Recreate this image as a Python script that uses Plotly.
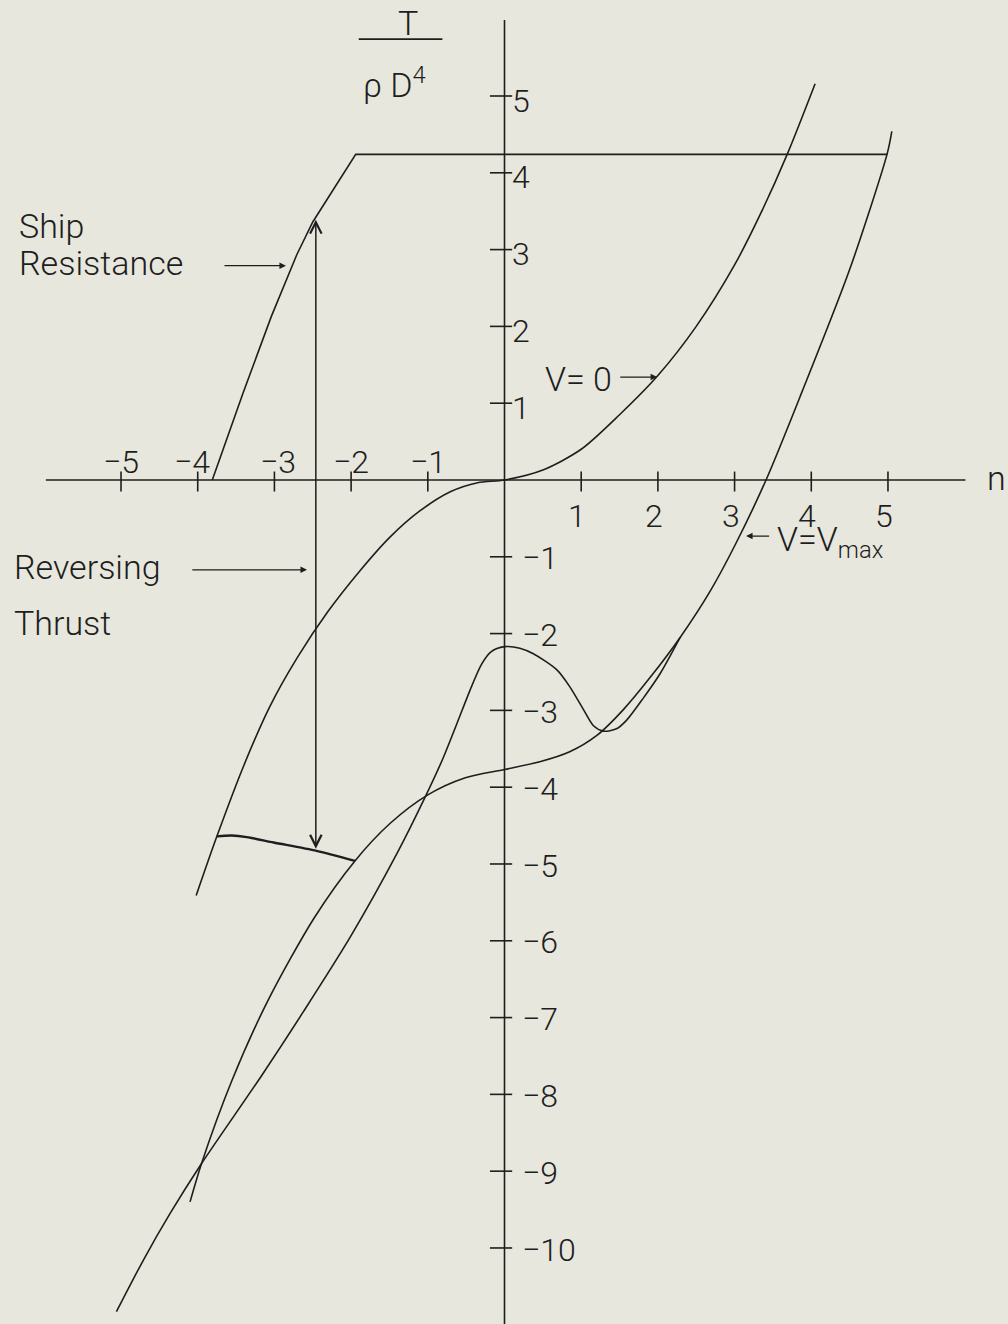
import plotly.graph_objects as go

# ---- curve data: rotational speed n against thrust coefficient T/(rho D^4) ----
# V = 0 (bollard) curve
v0_n = [-4.02, -3.75, -3.40, -3.06, -2.70, -2.30, -1.90, -1.50, -1.10, -0.70, -0.35,
        0.0, 0.50, 1.00, 1.50, 2.00, 2.50, 3.00, 3.35, 3.69, 4.05]
v0_T = [-5.41, -4.64, -3.72, -2.95, -2.31, -1.71, -1.20, -0.75, -0.40, -0.15, -0.035,
        0.0, 0.13, 0.40, 0.85, 1.36, 2.00, 2.80, 3.49, 4.25, 5.16]

# V = Vmax curve
vmax_n = [-4.10, -3.95, -3.55, -3.08, -2.48, -1.95, -1.49, -1.00, -0.52, 0.0,
          0.46, 0.85, 1.20, 1.55, 1.90, 2.29, 2.68, 3.01, 3.41, 3.88, 4.50, 4.99, 5.05]
vmax_T = [-9.40, -8.90, -7.81, -6.77, -5.70, -4.96, -4.47, -4.10, -3.88, -3.77,
          -3.67, -3.54, -3.33, -2.99, -2.57, -2.05, -1.45, -0.84, 0.0, 1.15, 2.74, 4.25, 4.54]

# crash-stop transient curve
hump_n = [-5.06, -4.71, -4.36, -3.95, -3.17, -2.62, -2.01, -1.40, -1.04, -0.80, -0.62,
          -0.43, -0.30, -0.18, 0.0, 0.20, 0.37, 0.68, 0.85, 1.03, 1.16, 1.29, 1.46,
          1.59, 1.81, 2.03, 2.29]
hump_T = [-10.83, -10.16, -9.55, -8.90, -7.76, -6.92, -5.95, -4.86, -4.14, -3.62, -3.17,
          -2.69, -2.40, -2.24, -2.17, -2.19, -2.26, -2.47, -2.69, -2.99, -3.20, -3.27,
          -3.24, -3.13, -2.84, -2.52, -2.05]

# ship resistance line, capped at the torque limit
resist_n = [-3.81, -3.41, -3.04, -2.71, -2.50, -1.94, 4.99]
resist_T = [0.0, 1.13, 2.13, 2.93, 3.36, 4.24, 4.24]

# reversing thrust envelope
reverse_n = [-3.75, -3.56, -3.36, -3.01, -2.45, -1.95]
reverse_T = [-4.64, -4.63, -4.65, -4.72, -4.83, -4.96]

# reversing-thrust dimension line
span_n = -2.46
span_T = [3.39, -4.82]

# axis ticks
n_ticks_neg = [-5, -4, -3, -2, -1]
n_ticks_pos = [1, 2, 3, 4, 5]
t_ticks_pos = [5, 4, 3, 2, 1]
t_ticks_neg = [-1, -2, -3, -4, -5, -6, -7, -8, -9, -10]

INK = "#1e1e1e"
BG = "#e7e7dd"
FAMILY = "Roboto, 'DejaVu Sans', sans-serif"
FONT = dict(family=FAMILY, size=34, color=INK, weight=300)
TICKFONT = dict(family=FAMILY, size=32, color=INK, weight=300)

# small pixel nudges so tick labels clear the curves that cross them
LABEL_NUDGE = {-4: -6, -3: 4}


def label(num):
    return str(num).replace("-", "\u2212")


fig = go.Figure()


def curve(n, T, width=1.6, shape="spline"):
    fig.add_trace(go.Scatter(
        x=n, y=T, mode="lines",
        line=dict(color=INK, width=width, shape=shape, smoothing=0.8),
        hoverinfo="skip", showlegend=False))


curve(v0_n, v0_T)
curve(vmax_n, vmax_T)
curve(hump_n, hump_T)
curve(resist_n, resist_T, shape="linear")
curve(reverse_n, reverse_T, width=2.4)

shapes = []
# axes through the origin
shapes.append(dict(type="line", x0=-5.98, x1=6.01, y0=0, y1=0,
                   line=dict(color=INK, width=1.6)))
shapes.append(dict(type="line", x0=0, x1=0, y0=-11.5, y1=5.99,
                   line=dict(color=INK, width=1.6)))
for v in n_ticks_neg + n_ticks_pos:
    shapes.append(dict(type="line", x0=v, x1=v, y0=-0.15, y1=0.11,
                       line=dict(color=INK, width=1.6)))
for v in t_ticks_pos + t_ticks_neg:
    shapes.append(dict(type="line", x0=-0.19, x1=0.10, y0=v, y1=v,
                       line=dict(color=INK, width=1.6)))
# fraction bar of the y-axis title
shapes.append(dict(type="line", x0=-1.90, x1=-0.81, y0=5.74, y1=5.74,
                   line=dict(color=INK, width=1.6)))

ann = []
for v in n_ticks_neg:
    ann.append(dict(x=v, y=0.24, text=label(v), showarrow=False,
                    xshift=LABEL_NUDGE.get(v, 0),
                    xanchor="center", yanchor="middle", font=TICKFONT))
for v in n_ticks_pos:
    ann.append(dict(x=v - 0.05, y=-0.47, text=label(v), showarrow=False,
                    xanchor="center", yanchor="middle", font=TICKFONT))
for v in t_ticks_pos:
    ann.append(dict(x=0.07, y=v - 0.06, text=label(v), showarrow=False,
                    xanchor="left", yanchor="middle", font=TICKFONT))
for v in t_ticks_neg:
    ann.append(dict(x=0.20, y=v - 0.02, text=label(v), showarrow=False,
                    xanchor="left", yanchor="middle", font=TICKFONT))

# axis titles
ann.append(dict(x=6.42, y=0.02, text="n", showarrow=False,
                xanchor="center", yanchor="middle", font=FONT))
ann.append(dict(x=-1.26, y=5.95, text="T", showarrow=False,
                xanchor="center", yanchor="middle", font=FONT))
ann.append(dict(x=-1.43, y=5.17, text="\u03c1 D<sup>4</sup>", showarrow=False,
                xanchor="center", yanchor="middle", font=FONT))

# curve labels
ann.append(dict(x=-6.36, y=3.31, text="Ship", showarrow=False,
                xanchor="left", yanchor="middle", font=FONT))
ann.append(dict(x=-6.36, y=2.82, text="Resistance", showarrow=False,
                xanchor="left", yanchor="middle", font=FONT))
ann.append(dict(x=-6.42, y=-1.13, text="Reversing", showarrow=False,
                xanchor="left", yanchor="middle", font=FONT))
ann.append(dict(x=-6.42, y=-1.86, text="Thrust", showarrow=False,
                xanchor="left", yanchor="middle", font=FONT))
ann.append(dict(x=1.43, y=1.31, text="V= 0", showarrow=False,
                xanchor="right", yanchor="middle", font=FONT))
ann.append(dict(x=3.53, y=-0.80, text="V=V<sub>max</sub>", showarrow=False,
                xanchor="left", yanchor="middle", font=FONT))

ptr = dict(showarrow=True, text="", axref="x", ayref="y", arrowhead=2,
           arrowsize=1.0, arrowwidth=1.3, arrowcolor=INK, standoff=0)
ann.append(dict(ptr, x=-2.85, y=2.79, ax=-3.67, ay=2.79))
ann.append(dict(ptr, x=-2.575, y=-1.17, ax=-4.09, ay=-1.17))
ann.append(dict(ptr, x=1.99, y=1.34, ax=1.49, ay=1.34))
ann.append(dict(ptr, x=3.15, y=-0.73, ax=3.47, ay=-0.73))

# double-headed dimension arrow
ann.append(dict(showarrow=True, text="", axref="x", ayref="y",
                x=span_n, y=span_T[0], ax=span_n, ay=span_T[1],
                arrowside="end+start", arrowhead=5, startarrowhead=5,
                arrowsize=1.5, startarrowsize=1.5, arrowwidth=1.5,
                arrowcolor=INK, standoff=0, startstandoff=0))

fig.update_layout(
    width=1008, height=1324, autosize=False,
    margin=dict(l=0, r=0, t=0, b=0),
    paper_bgcolor=BG, plot_bgcolor=BG,
    xaxis=dict(range=[-6.578, 6.565], visible=False, fixedrange=True),
    yaxis=dict(range=[-10.99, 6.25], visible=False, fixedrange=True),
    shapes=shapes, annotations=ann, showlegend=False,
)

fig.write_html("out.html")
